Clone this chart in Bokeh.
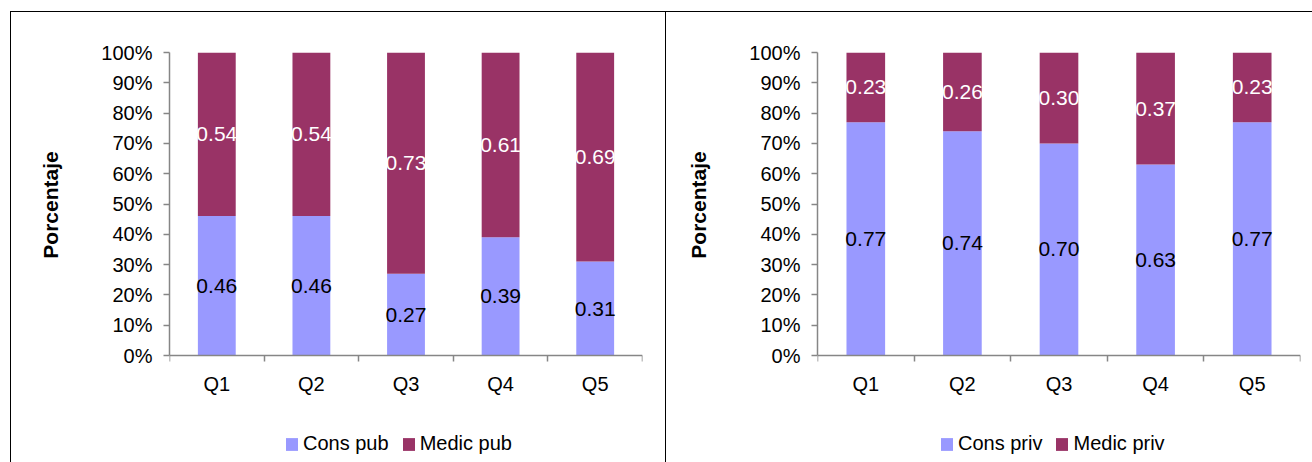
from bokeh.plotting import figure
from bokeh.layouts import row
from bokeh.models import (Range1d, FixedTicker, NumeralTickFormatter, Legend, LegendItem,
                          ColumnDataSource)
from bokeh.core.properties import value
from bokeh.embed import file_html
from bokeh.resources import INLINE

categories = ["Q1", "Q2", "Q3", "Q4", "Q5"]
cons_pub = [0.46, 0.46, 0.27, 0.39, 0.31]
medic_pub = [0.54, 0.54, 0.73, 0.61, 0.69]
cons_priv = [0.77, 0.74, 0.70, 0.63, 0.77]
medic_priv = [0.23, 0.26, 0.30, 0.37, 0.23]
y_tick_values = [0.0, 0.1, 0.2, 0.3, 0.4, 0.5, 0.6, 0.7, 0.8, 0.9, 1.0]
legend_pub = ["Cons pub", "Medic pub"]
legend_priv = ["Cons priv", "Medic priv"]
y_title = "Porcentaje"

CONS = "#9999FF"
MEDIC = "#993366"
AXIS = "#868686"
FONT = "Liberation Sans"

H = 462
TOP = 52          # pixel row of 100 %
ZERO = 355        # pixel row of 0 %
Y_START = -(H - ZERO) / (ZERO - TOP)   # frame extends below 0 % to hold the legend
# the axis title is centred on the whole frame; leading no-break spaces lift it
# back to the centre of the 0-100 % span
TITLE_PAD = "\u00a0" * 18


def make_panel(width, fl, fr, cons, medic, names, legend_x, styles):
    n = len(categories)
    p = figure(width=width, height=H, output_backend="svg", toolbar_location=None,
               x_range=Range1d(0, n), y_range=Range1d(Y_START, 1),
               min_border_left=fl, min_border_right=fr,
               min_border_top=TOP, min_border_bottom=0)
    p.outline_line_color = None
    p.xgrid.grid_line_color = None
    p.ygrid.grid_line_color = None
    p.background_fill_alpha = 0
    p.border_fill_alpha = 0
    p.styles = styles

    xs = [i + 0.5 for i in range(n)]
    src = ColumnDataSource(dict(
        x=xs, cons=cons, medic=medic,
        cons_mid=[c / 2 for c in cons],
        medic_mid=[c + m / 2 for c, m in zip(cons, medic)],
        cons_lbl=["%.2f" % c for c in cons],
        medic_lbl=["%.2f" % m for m in medic],
    ))
    rs = p.vbar_stack(["cons", "medic"], x="x", width=0.4, color=[CONS, MEDIC],
                      line_color=None, source=src)

    p.text(x="x", y="cons_mid", text="cons_lbl", source=src, text_align="center",
           text_baseline="middle", text_font=value(FONT), text_font_size="21px",
           text_color="black")
    p.text(x="x", y="medic_mid", text="medic_lbl", source=src, text_align="center",
           text_baseline="middle", text_font=value(FONT), text_font_size="21px",
           text_color="white")

    # y axis
    ya = p.yaxis[0]
    ya.bounds = (0, 1)
    ya.ticker = FixedTicker(ticks=y_tick_values, minor_ticks=[])
    ya.formatter = NumeralTickFormatter(format="0%")
    ya.axis_line_color = AXIS
    ya.axis_line_width = 1.5
    ya.major_tick_line_color = AXIS
    ya.major_tick_line_width = 1.5
    ya.major_tick_out = 6
    ya.major_tick_in = 0
    ya.minor_tick_line_color = None
    ya.major_label_standoff = 11
    ya.major_label_text_font = FONT
    ya.major_label_text_font_size = "20px"
    ya.major_label_text_color = "black"
    ya.axis_label = TITLE_PAD + y_title
    ya.axis_label_text_font = FONT
    ya.axis_label_text_font_size = "21px"
    ya.axis_label_text_font_style = "bold"
    ya.axis_label_text_color = "black"
    ya.axis_label_standoff = 36

    # x axis at the 0 % line: labels at centres, ticks at category boundaries
    xa = p.xaxis[0]
    xa.fixed_location = 0
    xa.ticker = FixedTicker(ticks=xs, minor_ticks=list(range(n + 1)))
    xa.major_label_overrides = {x: c for x, c in zip(xs, categories)}
    xa.axis_line_color = AXIS
    xa.axis_line_width = 1.5
    xa.major_tick_line_color = None
    xa.major_tick_out = 0
    xa.major_tick_in = 0
    xa.minor_tick_line_color = AXIS
    xa.minor_tick_line_width = 1.5
    xa.minor_tick_out = 6
    xa.minor_tick_in = 0
    xa.major_label_standoff = 11
    xa.major_label_text_font = FONT
    xa.major_label_text_font_size = "20px"
    xa.major_label_text_color = "black"

    legend = Legend(items=[LegendItem(label=names[0], renderers=[rs[0]]),
                           LegendItem(label=names[1], renderers=[rs[1]])],
                    orientation="horizontal", location=(legend_x, 7),
                    padding=0, margin=0, spacing=12, label_standoff=4,
                    glyph_width=15, glyph_height=16, label_height=20,
                    label_text_font=FONT, label_text_font_size="20px",
                    label_text_color="black",
                    border_line_color=None, background_fill_alpha=0)
    p.add_layout(legend, "center")
    return p


left_styles = {
    "background-color": "white",
    "background-image": "linear-gradient(#000,#000), linear-gradient(#000,#000), linear-gradient(#000,#000)",
    "background-size": "1px 100%, 656px 1px, 1px 100%",
    "background-position": "10px 11px, 10px 11px, 665px 11px",
    "background-repeat": "no-repeat",
}
right_styles = {
    "background-color": "white",
    "background-image": "linear-gradient(#000,#000)",
    "background-size": "100% 1px",
    "background-position": "0px 11px",
    "background-repeat": "no-repeat",
}

p1 = make_panel(666, 169, 24, cons_pub, medic_pub, legend_pub, 115, left_styles)
p2 = make_panel(646, 151, 12, cons_priv, medic_priv, legend_priv, 122, right_styles)

layout = row(p1, p2, spacing=0)
open("out.html", "w").write(file_html(layout, INLINE))
